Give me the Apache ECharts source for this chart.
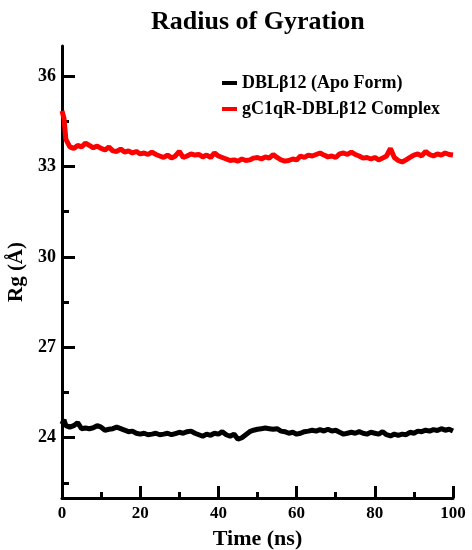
<!DOCTYPE html>
<html>
<head>
<meta charset="utf-8">
<title>Radius of Gyration</title>
<script src="https://cdn.jsdelivr.net/npm/echarts@6/dist/echarts.min.js"></script>
<style>
  html, body { margin: 0; padding: 0; background: #fff; }
  #rgChart { width: 472px; height: 550px; }
</style>
</head>
<body>
<div id="rgChart"></div>
<script>
// time in ns
var timeNs = [0, 0.5, 1, 2, 3, 4, 5, 6, 7, 8, 9, 10, 11, 12, 13, 14, 15, 16, 17, 18, 19, 20,
  21, 22, 23, 24, 25, 26, 27, 28, 29, 30, 31, 32, 33, 34, 35, 36, 37, 38, 39, 40,
  41, 42, 43, 44, 45, 46, 47, 48, 49, 50, 51, 52, 53, 54, 55, 56, 57, 58, 59, 60,
  61, 62, 63, 64, 65, 66, 67, 68, 69, 70, 71, 72, 73, 74, 75, 76, 77, 78, 79, 80,
  81, 82, 83, 84, 85, 86, 87, 88, 89, 90, 91, 92, 93, 94, 95, 96, 97, 98, 99, 100]

// DBLb12 apo form
var rgApo = [24.45, 24.6, 24.4, 24.35, 24.4, 24.5, 24.3, 24.32, 24.3, 24.33, 24.4, 24.35, 24.25, 24.28, 24.3, 24.35, 24.3, 24.25, 24.2, 24.22, 24.15, 24.12,
  24.15, 24.1, 24.12, 24.15, 24.1, 24.12, 24.15, 24.1, 24.14, 24.18, 24.15, 24.2, 24.22, 24.15, 24.1, 24.05, 24.12, 24.08, 24.15, 24.12,
  24.2, 24.1, 24.05, 24.12, 23.95, 24.0, 24.1, 24.2, 24.25, 24.28, 24.3, 24.32, 24.3, 24.28, 24.3, 24.22, 24.2, 24.15, 24.18, 24.12,
  24.15, 24.2, 24.22, 24.25, 24.22, 24.27, 24.22, 24.28, 24.22, 24.25, 24.18, 24.12, 24.15, 24.18, 24.15, 24.2, 24.15, 24.12, 24.18, 24.15,
  24.12, 24.2, 24.1, 24.06, 24.12, 24.08, 24.12, 24.1, 24.18, 24.15, 24.22, 24.2, 24.25, 24.22, 24.27, 24.24, 24.3, 24.25, 24.28, 24.22]

// gC1qR-DBLb12 complex
var rgComplex = [34.85, 34.6, 33.9, 33.65, 33.6, 33.7, 33.65, 33.78, 33.7, 33.62, 33.68, 33.6, 33.55, 33.65, 33.52, 33.5, 33.58, 33.48, 33.52, 33.45, 33.5, 33.42,
  33.45, 33.4, 33.48, 33.4, 33.35, 33.3, 33.38, 33.28, 33.35, 33.5, 33.3, 33.35, 33.42, 33.38, 33.4, 33.32, 33.38, 33.3, 33.45, 33.35,
  33.3, 33.25, 33.2, 33.22, 33.18, 33.25, 33.2, 33.22, 33.28, 33.3, 33.25, 33.32, 33.28, 33.4, 33.3, 33.22, 33.18, 33.2, 33.25, 33.22,
  33.35, 33.3, 33.38, 33.35, 33.4, 33.45, 33.38, 33.32, 33.35, 33.3, 33.42, 33.45, 33.4, 33.48, 33.4, 33.35, 33.28, 33.3, 33.25, 33.3,
  33.22, 33.28, 33.35, 33.6, 33.3, 33.2, 33.15, 33.22, 33.3, 33.38, 33.42, 33.35, 33.5, 33.4, 33.35, 33.42, 33.38, 33.45, 33.4, 33.38]

var yMajor = [24, 27, 30, 33, 36]
var yMinor = [22.5, 25.5, 28.5, 31.5, 34.5]

var serif = 'Liberation Serif'

function pairs (vals) {
  return timeNs.map(function (t, i) { return [t, vals[i]] })
}

var myChart = echarts.init(document.getElementById('rgChart'))
var option = {
  animation: false,
  backgroundColor: '#fff',
  title: {
    text: 'Radius of Gyration',
    left: 146,
    top: 4,
    textStyle: {
      fontFamily: serif,
      fontWeight: 'bold',
      fontSize: 26,
      color: '#000'
    }
  },
  legend: {
    orient: 'vertical',
    left: 217,
    top: 69,
    icon: 'rect',
    itemWidth: 15,
    itemHeight: 4,
    itemGap: 8,
    textStyle: {
      fontFamily: serif,
      fontWeight: 'bold',
      fontSize: 18,
      color: '#000'
    },
    data: ['DBLβ12 (Apo Form)', 'gC1qR-DBLβ12 Complex']
  },
  grid: {
    left: 62,
    right: 19,
    top: 46,
    bottom: 52,
    outerBoundsMode: 'none'
  },
  xAxis: {
    type: 'value',
    min: 0,
    max: 100,
    interval: 20,
    name: 'Time (ns)',
    nameLocation: 'middle',
    nameGap: 30,
    nameTextStyle: { fontFamily: serif, fontWeight: 'bold', fontSize: 22, color: '#000' },
    axisLine: { show: true, lineStyle: { color: '#000', width: 3 } },
    axisTick: { show: true, inside: true, length: 12, lineStyle: { color: '#000', width: 3 } },
    minorTick: { show: true, splitNumber: 2, length: 6, lineStyle: { color: '#000', width: 3 } },
    axisLabel: { margin: 7, fontFamily: serif, fontWeight: 'bold', fontSize: 17, color: '#000' },
    splitLine: { show: false }
  },
  yAxis: [
    {
      type: 'value',
      min: 22,
      max: 37,
      name: 'Rg (Å)',
      nameLocation: 'middle',
      nameGap: 32,
      nameTextStyle: { fontFamily: serif, fontWeight: 'bold', fontSize: 21, color: '#000' },
      axisLine: { show: true, lineStyle: { color: '#000', width: 3 } },
      axisTick: { show: true, inside: true, length: 13, customValues: yMajor, lineStyle: { color: '#000', width: 3 } },
      axisLabel: { margin: 6, customValues: yMajor, fontFamily: serif, fontWeight: 'bold', fontSize: 18, color: '#000' },
      splitLine: { show: false }
    },
    {
      type: 'value',
      min: 22,
      max: 37,
      position: 'left',
      axisLine: { show: false },
      axisTick: { show: true, inside: true, length: 7, customValues: yMinor, lineStyle: { color: '#000', width: 3 } },
      axisLabel: { show: false },
      splitLine: { show: false }
    }
  ],
  series: [
    {
      name: 'DBLβ12 (Apo Form)',
      type: 'line',
      color: '#000',
      showSymbol: false,
      symbol: 'none',
      lineStyle: { width: 5, color: '#000' },
      data: pairs(rgApo)
    },
    {
      name: 'gC1qR-DBLβ12 Complex',
      type: 'line',
      color: '#ff0000',
      showSymbol: false,
      symbol: 'none',
      lineStyle: { width: 5, color: '#ff0000' },
      data: pairs(rgComplex)
    }
  ]
}
myChart.setOption(option)
window.addEventListener('resize', function () {
  myChart.resize()
})
</script>
</body>
</html>
